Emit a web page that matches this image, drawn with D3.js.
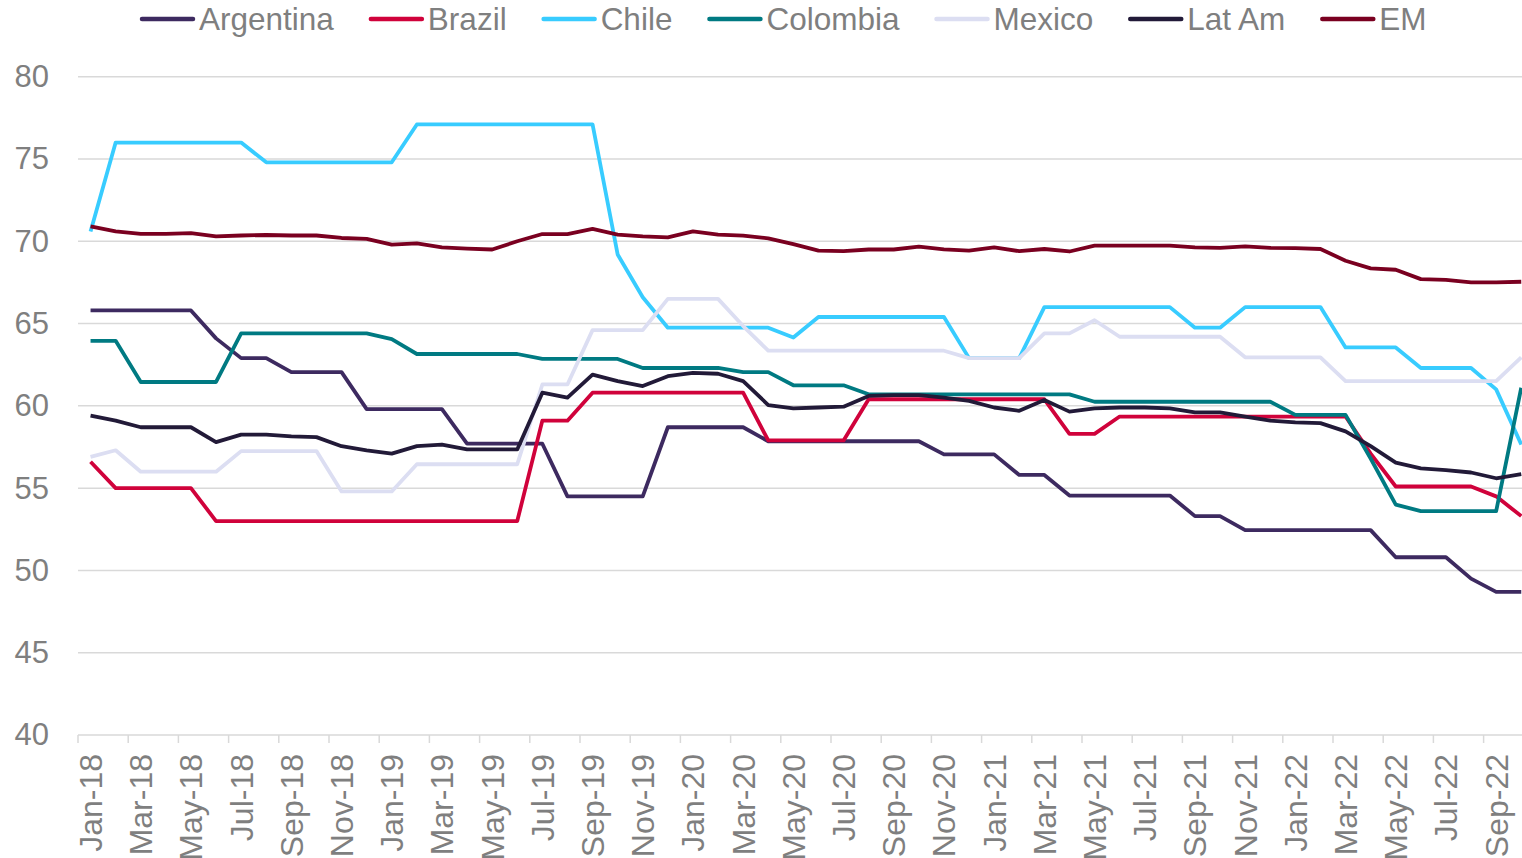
<!DOCTYPE html>
<html><head><meta charset="utf-8">
<script src="https://cdn.jsdelivr.net/npm/d3@7"></script>
<style>body{margin:0;background:#fff}svg{display:block}text{font-family:"Liberation Sans",Arial,sans-serif}</style>
</head><body><svg id="c" width="1522" height="858"></svg>
<script>
const months = (() => { const m=["Jan","Feb","Mar","Apr","May","Jun","Jul","Aug","Sep","Oct","Nov","Dec"]; const out=[]; for(let y=18;y<=22;y++) for(let k=0;k<12;k++){ if(y===22&&k>9) break; out.push(m[k]+"-"+y);} return out; })();
const yTicks = [40,45,50,55,60,65,70,75,80];
const seriesNames = ["Argentina","Brazil","Chile","Colombia","Mexico","Lat Am","EM"];
const seriesColors = ["#3D2A60","#D0023B","#38CCFF","#007A82","#DCDEF2","#221A38","#7A0020"];
const argentina = [65.8,65.8,65.8,65.8,65.8,64.1,62.9,62.9,62.05,62.05,62.05,59.8,59.8,59.8,59.8,57.7,57.7,57.7,57.7,54.5,54.5,54.5,54.5,58.7,58.7,58.7,58.7,57.85,57.85,57.85,57.85,57.85,57.85,57.85,57.05,57.05,57.05,55.8,55.8,54.55,54.55,54.55,54.55,54.55,53.3,53.3,52.45,52.45,52.45,52.45,52.45,52.45,50.8,50.8,50.8,49.5,48.7,48.7];
const brazil = [56.6,55.0,55.0,55.0,55.0,53.0,53.0,53.0,53.0,53.0,53.0,53.0,53.0,53.0,53.0,53.0,53.0,53.0,59.1,59.1,60.8,60.8,60.8,60.8,60.8,60.8,60.8,57.9,57.9,57.9,57.9,60.4,60.4,60.4,60.4,60.4,60.4,60.4,60.4,58.3,58.3,59.35,59.35,59.35,59.35,59.35,59.35,59.35,59.35,59.35,59.35,57.1,55.1,55.1,55.1,55.1,54.5,53.3];
const chile = [70.6,76.0,76.0,76.0,76.0,76.0,76.0,74.8,74.8,74.8,74.8,74.8,74.8,77.1,77.1,77.1,77.1,77.1,77.1,77.1,77.1,69.2,66.6,64.75,64.75,64.75,64.75,64.75,64.15,65.4,65.4,65.4,65.4,65.4,65.4,62.9,62.9,62.9,66.0,66.0,66.0,66.0,66.0,66.0,64.75,64.75,66.0,66.0,66.0,66.0,63.55,63.55,63.55,62.3,62.3,62.3,61.0,57.65];
const colombia = [63.95,63.95,61.45,61.45,61.45,61.45,64.4,64.4,64.4,64.4,64.4,64.4,64.05,63.15,63.15,63.15,63.15,63.15,62.85,62.85,62.85,62.85,62.3,62.3,62.3,62.3,62.05,62.05,61.25,61.25,61.25,60.7,60.7,60.7,60.7,60.7,60.7,60.7,60.7,60.7,60.25,60.25,60.25,60.25,60.25,60.25,60.25,60.25,59.45,59.45,59.45,56.8,54.0,53.6,53.6,53.6,53.6,61.1];
const mexico = [56.9,57.3,56.0,56.0,56.0,56.0,57.25,57.25,57.25,57.25,54.8,54.8,54.8,56.45,56.45,56.45,56.45,56.45,61.3,61.3,64.6,64.6,64.6,66.5,66.5,66.5,64.85,63.35,63.35,63.35,63.35,63.35,63.35,63.35,63.35,62.9,62.9,62.9,64.4,64.4,65.2,64.2,64.2,64.2,64.2,64.2,62.95,62.95,62.95,62.95,61.5,61.5,61.5,61.5,61.5,61.5,61.5,62.95];
const latAm = [59.4,59.1,58.7,58.7,58.7,57.8,58.25,58.25,58.15,58.1,57.55,57.3,57.1,57.55,57.65,57.35,57.35,57.35,60.8,60.5,61.9,61.5,61.2,61.8,62.0,61.95,61.5,60.05,59.85,59.9,59.95,60.6,60.65,60.65,60.5,60.3,59.9,59.7,60.35,59.65,59.85,59.9,59.9,59.85,59.6,59.6,59.35,59.1,59.0,58.95,58.45,57.55,56.55,56.2,56.1,55.95,55.6,55.85];
const em = [70.9,70.6,70.45,70.45,70.5,70.3,70.35,70.38,70.35,70.35,70.2,70.15,69.8,69.87,69.63,69.55,69.5,70.0,70.44,70.44,70.75,70.4,70.3,70.24,70.6,70.4,70.34,70.18,69.83,69.43,69.4,69.5,69.5,69.67,69.51,69.43,69.63,69.4,69.53,69.38,69.73,69.73,69.73,69.73,69.63,69.6,69.69,69.6,69.58,69.53,68.82,68.35,68.27,67.7,67.66,67.5,67.5,67.54];
const seriesValues = [argentina,brazil,chile,colombia,mexico,latAm,em];

const svg = d3.select("#c");
const left = 78, step = 25.1;
const x = d3.scaleBand().domain(months).range([left, left + months.length*step]).paddingInner(0).paddingOuter(0);
const y = d3.scaleLinear().domain([40,80]).range([735,76.7]);
const gray = "#7F7F7F";
const ff = '"Liberation Sans",Arial,sans-serif';

// gridlines
svg.append("g").selectAll("line").data(yTicks).join("line")
  .attr("x1", left).attr("x2", 1534).attr("y1", d=>y(d)).attr("y2", d=>y(d))
  .attr("stroke", "#D9D9D9").attr("stroke-width", 1.5);

// y labels
const yAxis = svg.append("g").attr("transform", `translate(${left},0)`)
  .call(d3.axisLeft(y).tickValues(yTicks).tickSize(0).tickPadding(29));
yAxis.select(".domain").remove();
yAxis.selectAll("text").attr("font-size", 31).attr("fill", gray).attr("font-family", ff);

// x axis
const tickMonths = months.filter((d,i)=>i%2===0);
svg.append("g").selectAll("line").data(tickMonths).join("line")
  .attr("x1", d=>x(d)).attr("x2", d=>x(d)).attr("y1", y(40)).attr("y2", y(40)+8)
  .attr("stroke", "#D9D9D9").attr("stroke-width", 1.5);
const xAxis = svg.append("g").attr("transform", `translate(0,${y(40)})`)
  .call(d3.axisBottom(x).tickValues(tickMonths).tickSize(0));
xAxis.select(".domain").remove();
xAxis.selectAll("text")
  .attr("font-size", 32).attr("fill", gray).attr("font-family", ff)
  .attr("text-anchor", "end").attr("transform", "rotate(-90)")
  .attr("x", -19).attr("y", 0).attr("dy", "0.36em");

// lines
const line = d3.line().x((d,i)=>x(months[i]) + x.bandwidth()/2).y(d=>y(d));
svg.append("g").selectAll("path").data(seriesValues).join("path")
  .attr("d", d=>line(d)).attr("fill","none")
  .attr("stroke", (d,i)=>seriesColors[i]).attr("stroke-width", 3.8)
  .attr("stroke-linejoin","round").attr("stroke-linecap","butt");

// legend
const lg = svg.append("g");
let cx = 140;
seriesNames.forEach((name,i)=>{
  const g = lg.append("g");
  g.append("line").attr("x1", cx+2).attr("x2", cx+53).attr("y1", 19).attr("y2", 19)
    .attr("stroke", seriesColors[i]).attr("stroke-width", 4.5).attr("stroke-linecap","round");
  const t = g.append("text").attr("x", cx+59).attr("y", 19).attr("dy","0.35em")
    .attr("font-size", 31.5).attr("fill", gray).attr("font-family", ff).text(name);
  cx += 59 + t.node().getComputedTextLength() + 35;
});
</script></body></html>
